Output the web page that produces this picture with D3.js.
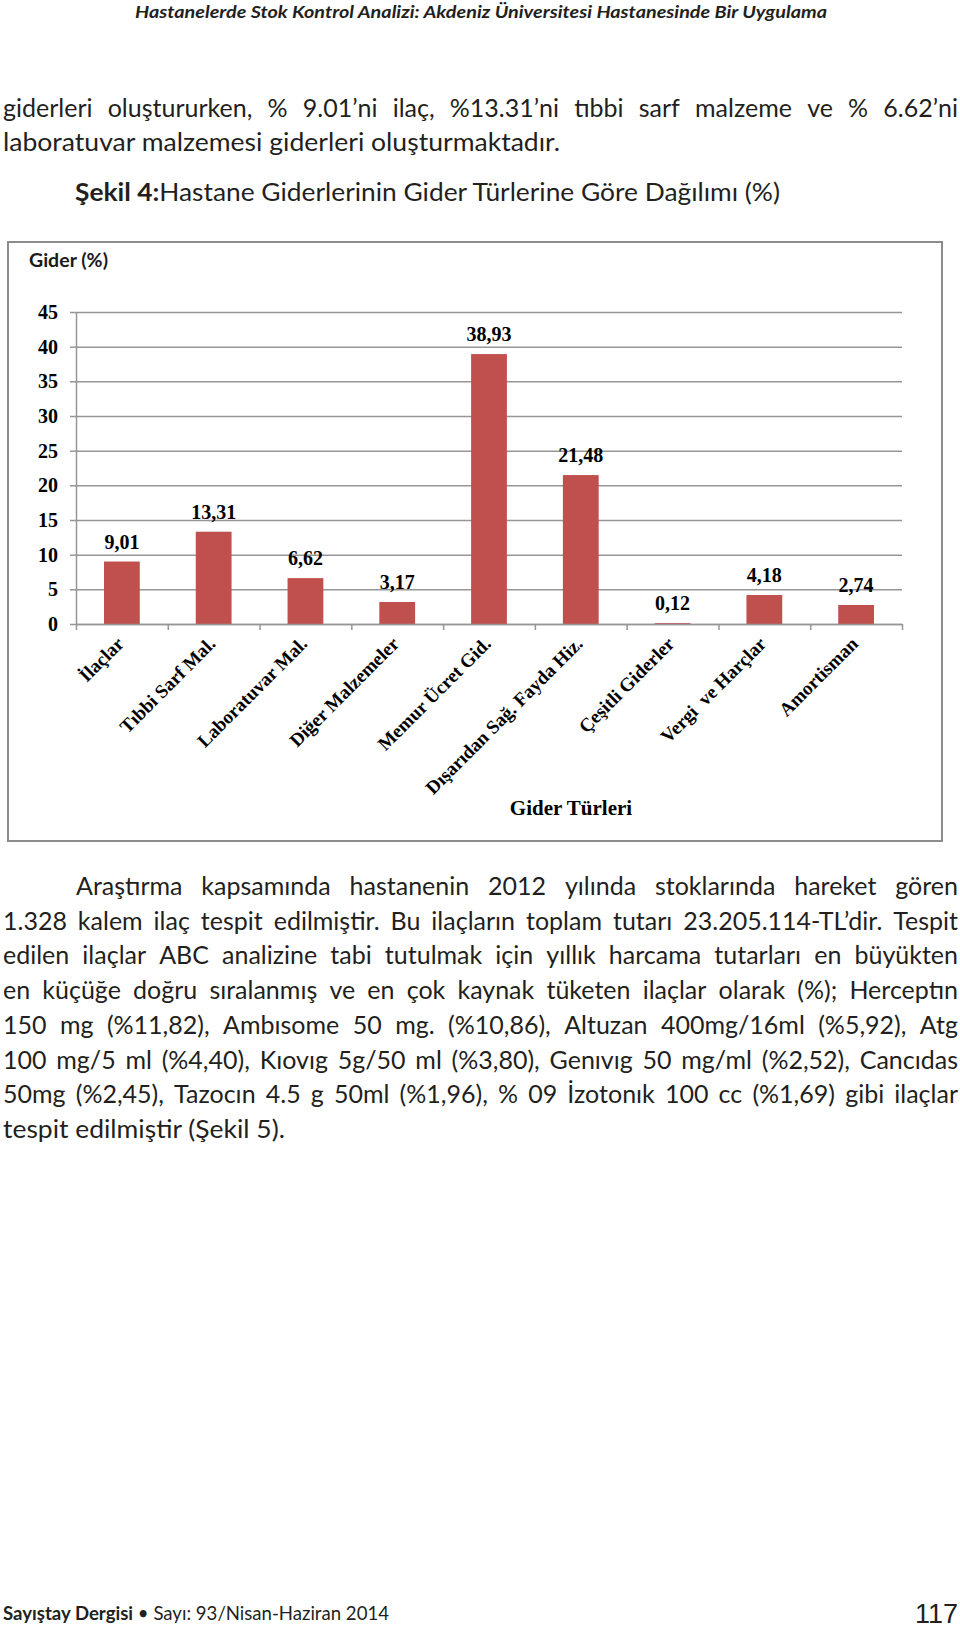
<!DOCTYPE html>
<html>
<head>
<meta charset="utf-8">
<script src="https://cdn.jsdelivr.net/npm/d3@7"></script>
<style>
  body { margin: 0; background: #fff; }
  svg { display: block; }
  text { white-space: pre; }
</style>
</head>
<body>
<div id="page"></div>
<script>
// chart data
const categories = ['İlaçlar', 'Tıbbi Sarf Mal.', 'Laboratuvar Mal.', 'Diğer Malzemeler', 'Memur Ücret Gid.',
  'Dışarıdan Sağ. Fayda Hiz.', 'Çeşitli Giderler', 'Vergi  ve Harçlar', 'Amortisman'];
const values = [9.01, 13.31, 6.62, 3.17, 38.93, 21.48, 0.12, 4.18, 2.74];
const yTicks = [0, 5, 10, 15, 20, 25, 30, 35, 40, 45];

// page text
const headerText = 'Hastanelerde Stok Kontrol Analizi: Akdeniz Üniversitesi Hastanesinde Bir Uygulama';
const introLines = [
  'giderleri oluştururken, % 9.01’ni ilaç, %13.31’ni tıbbi sarf malzeme ve % 6.62’ni',
  'laboratuvar malzemesi giderleri oluşturmaktadır.'
];
const paraLines = [
  'Araştırma kapsamında hastanenin 2012 yılında stoklarında hareket gören',
  '1.328 kalem ilaç tespit edilmiştir. Bu ilaçların toplam tutarı 23.205.114-TL’dir. Tespit',
  'edilen ilaçlar ABC analizine tabi tutulmak için yıllık harcama tutarları en büyükten',
  'en küçüğe doğru sıralanmış ve en çok kaynak tüketen ilaçlar olarak (%); Herceptın',
  '150 mg (%11,82), Ambısome 50 mg. (%10,86), Altuzan 400mg/16ml (%5,92), Atg',
  '100 mg/5 ml (%4,40), Kıovıg 5g/50 ml (%3,80), Genıvıg 50 mg/ml (%2,52), Cancıdas',
  '50mg (%2,45), Tazocın 4.5 g 50ml (%1,96), % 09 İzotonık 100 cc (%1,69) gibi ilaçlar',
  'tespit edilmiştir (Şekil 5).'
];

const W = 960, H = 1628;
const sans = 'Lato, "Open Sans", sans-serif';
const serif = '"Liberation Serif", "Times New Roman", serif';
const ink = '#231f20';

const svg = d3.select('#page').append('svg')
  .attr('width', W)
  .attr('height', H);

// spreads the words of a line between x0 and x1
function justify(g, str, x0, x1, y, size) {
  const words = str.split(' ');
  const tmp = g.append('text').attr('font-family', sans).attr('font-size', size);
  const widths = words.map(w => { tmp.text(w); return tmp.node().getComputedTextLength(); });
  tmp.remove();
  const gap = (x1 - x0 - d3.sum(widths)) / (words.length - 1);
  let x = x0;
  words.forEach((w, i) => {
    g.append('text')
      .attr('x', x).attr('y', y)
      .attr('font-family', sans).attr('font-size', size).attr('fill', ink)
      .text(w);
    x += widths[i] + gap;
  });
}

// header
svg.append('text')
  .attr('x', 135).attr('y', 18)
  .attr('font-family', sans).attr('font-size', 17)
  .attr('font-weight', 'bold').attr('font-style', 'italic')
  .attr('fill', ink)
  .attr('textLength', 692).attr('lengthAdjust', 'spacingAndGlyphs')
  .text(headerText);

const intro = svg.append('g');
justify(intro, introLines[0], 3, 958, 117, 25);
intro.append('text')
  .attr('x', 3).attr('y', 151)
  .attr('font-family', sans).attr('font-size', 25).attr('fill', ink)
  .attr('textLength', 557).attr('lengthAdjust', 'spacingAndGlyphs')
  .text(introLines[1]);

const caption = svg.append('text')
  .attr('x', 75).attr('y', 201)
  .attr('font-family', sans).attr('font-size', 25).attr('fill', ink)
  .attr('textLength', 705).attr('lengthAdjust', 'spacingAndGlyphs');
caption.append('tspan').attr('font-weight', 'bold').text('Şekil 4:');
caption.append('tspan').text('Hastane Giderlerinin Gider Türlerine Göre Dağılımı (%)');

// chart frame
svg.append('rect')
  .attr('x', 8).attr('y', 242)
  .attr('width', 934).attr('height', 599)
  .attr('fill', '#fff')
  .attr('stroke', '#8c8c8c').attr('stroke-width', 2);

svg.append('text')
  .attr('x', 29).attr('y', 267)
  .attr('font-family', sans).attr('font-size', 18).attr('font-weight', 'bold')
  .attr('fill', '#1a1a1a')
  .attr('textLength', 79).attr('lengthAdjust', 'spacingAndGlyphs')
  .text('Gider (%)');

const plotL = 76, plotR = 902, plotT = 312, plotB = 624;

const x = d3.scaleBand()
  .domain(categories)
  .range([plotL, plotR])
  .paddingInner(0.61)
  .paddingOuter(0.305);

const y = d3.scaleLinear()
  .domain([0, 45])
  .range([plotB, plotT]);

// gridlines
svg.append('g')
  .attr('transform', `translate(${plotL},0)`)
  .call(d3.axisLeft(y).tickValues(yTicks).tickSizeInner(-(plotR - plotL)).tickSizeOuter(0).tickFormat(''))
  .call(g => g.select('.domain').remove())
  .call(g => g.selectAll('line').attr('stroke', '#969696').attr('stroke-width', 1.5));

// y axis
svg.append('g')
  .attr('transform', `translate(${plotL},0)`)
  .call(d3.axisLeft(y).tickValues(yTicks).tickSizeInner(6).tickSizeOuter(0).tickPadding(12))
  .call(g => g.select('.domain').attr('stroke', '#969696').attr('stroke-width', 1.5))
  .call(g => g.selectAll('line').attr('stroke', '#969696').attr('stroke-width', 1.5))
  .call(g => g.selectAll('text')
    .attr('font-family', serif).attr('font-size', 20).attr('font-weight', 'bold').attr('fill', '#000'));

// bars
svg.append('g')
  .selectAll('rect')
  .data(values)
  .join('rect')
  .attr('x', (d, i) => x(categories[i]))
  .attr('y', d => y(d))
  .attr('width', x.bandwidth())
  .attr('height', d => y(0) - y(d))
  .attr('fill', '#c0504d');

// value labels
svg.append('g')
  .selectAll('text')
  .data(values)
  .join('text')
  .attr('x', (d, i) => x(categories[i]) + x.bandwidth() / 2)
  .attr('y', d => y(d) - 13)
  .attr('text-anchor', 'middle')
  .attr('font-family', serif).attr('font-size', 20).attr('font-weight', 'bold')
  .text(d => d3.format('.2f')(d).replace('.', ','));

// x axis with ticks between the categories
const xEdge = d3.scaleLinear().domain([0, categories.length]).range([plotL, plotR]);
svg.append('g')
  .attr('transform', `translate(0,${plotB})`)
  .call(d3.axisBottom(xEdge).tickValues(d3.range(categories.length + 1)).tickSizeInner(6).tickSizeOuter(0).tickFormat(''))
  .call(g => g.select('.domain').attr('stroke', '#969696').attr('stroke-width', 1.5))
  .call(g => g.selectAll('line').attr('stroke', '#969696').attr('stroke-width', 1.5));

// category labels
svg.append('g')
  .selectAll('text')
  .data(categories)
  .join('text')
  .attr('transform', d => `translate(${x(d) + x.bandwidth() / 2 + 3},645) rotate(-45)`)
  .attr('text-anchor', 'end')
  .attr('font-family', serif).attr('font-size', 19).attr('font-weight', 'bold')
  .text(d => d);

svg.append('text')
  .attr('x', 571).attr('y', 815)
  .attr('text-anchor', 'middle')
  .attr('font-family', serif).attr('font-size', 21).attr('font-weight', 'bold')
  .text('Gider Türleri');

// paragraph below the figure
const para = svg.append('g');
paraLines.forEach((line, i) => {
  const yy = 895 + i * 34.7;
  if (i === paraLines.length - 1) {
    para.append('text')
      .attr('x', 3).attr('y', yy)
      .attr('font-family', sans).attr('font-size', 25).attr('fill', ink)
      .attr('textLength', 282).attr('lengthAdjust', 'spacingAndGlyphs')
      .text(line);
  } else {
    justify(para, line, i === 0 ? 76 : 3, 958, yy, 25);
  }
});

// footer
const foot = svg.append('text')
  .attr('x', 3).attr('y', 1620)
  .attr('font-family', sans).attr('font-size', 19).attr('fill', ink)
  .attr('textLength', 386).attr('lengthAdjust', 'spacingAndGlyphs');
foot.append('tspan').attr('font-weight', 'bold').text('Sayıştay Dergisi');
foot.append('tspan').text(' • Sayı: 93/Nisan-Haziran 2014');

svg.append('text')
  .attr('x', 958).attr('y', 1623)
  .attr('text-anchor', 'end')
  .attr('font-family', '"Liberation Sans", Arial, sans-serif').attr('font-size', 27)
  .attr('fill', ink)
  .text('117');
</script>
</body>
</html>
